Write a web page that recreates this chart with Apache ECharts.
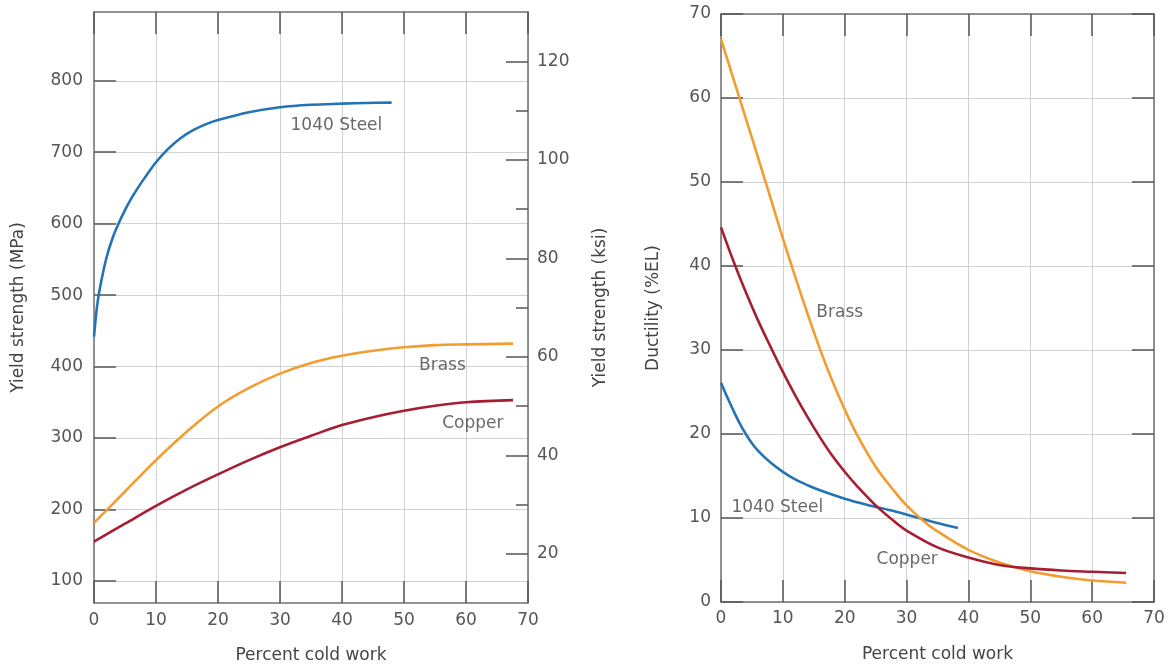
<!DOCTYPE html>
<html><head><meta charset="utf-8">
<script src="https://cdn.jsdelivr.net/npm/echarts@6/dist/echarts.min.js"></script>
<style>html,body{margin:0;padding:0;background:#fff}#c{width:1169px;height:666px}</style>
</head><body><div id="c"></div>
<script>
// ---------- DATA ----------
const MPA_PER_KSI = 6.894757;
// Left panel: yield strength (MPa) vs percent cold work
const steelYS_x = [0,0.5,1,2,3,4,5,6,7,8,10,12,14,16,18,20,25,30,35,40,44,48];
const steelYS_y = [442,485,512,552,580,601,619,635,649,662,686,705,720,731,739,745,756,763,766.5,768,769,769.5];
const brassYS_x = [0,5,10,15,20,25,30,35,40,45,50,55,60,67.6];
const brassYS_y = [181,225,269,309,344,370,390,405,415,422,427,430,431,432];
const copperYS_x = [0,5,10,15,20,25,30,35,40,45,50,55,60,67.6];
const copperYS_y = [155,180,205,228,249,269,287,303,318,329,338,345,350,353];
// Right panel: ductility (%EL) vs percent cold work
const steelEL_x = [0,1,2,3,4,5,6,8,10,12,14,16,20,24,28,32,35,38.3];
const steelEL_y = [26.1,24.4,22.8,21.3,20.0,18.9,18.0,16.6,15.5,14.6,13.9,13.3,12.3,11.5,10.8,10.0,9.4,8.8];
const brassEL_x = [0,2,4,6,8,10,12,14,16,18,20,22,25,28,30,32.5,35,40,45,50,55,60,65.5];
const brassEL_y = [67,62.3,57.6,52.9,48.1,43.3,38.7,34.3,30.1,26.3,22.9,19.9,16.1,13.2,11.5,9.8,8.4,6.2,4.7,3.65,3.0,2.55,2.3];
const copperEL_x = [0,2,4,6,8,10,12,14,16,18,20,22,25,28,30,35,40,45,50,55,60,65.5];
const copperEL_y = [44.6,40.6,36.9,33.5,30.4,27.4,24.6,22.0,19.6,17.4,15.5,13.8,11.5,9.6,8.5,6.5,5.3,4.4,4.0,3.75,3.6,3.45];
// Tick values
const mpaTicks = [100,200,300,400,500,600,700,800];
const ksiMajorTicks = [20,40,60,80,100,120];
const ksiMinorTicks = [30,50,70,90,110];
const ksiRange = [10,130];
// Curve labels [x, y, text]
const leftLabels = [[39.1,737,'1040 Steel'],[56.2,402,'Brass'],[61.1,320,'Copper']];
const rightLabels = [[19.2,34.4,'Brass'],[9.1,11.3,'1040 Steel'],[30.1,5.0,'Copper']];

// ---------- STYLE ----------
const FONT = 'DejaVu Sans';
const TXT = '#555';
const C_STEEL = '#2474b5', C_BRASS = '#f39c2f', C_COPPER = '#a71d31';
const frame = {show:true, onZero:false, lineStyle:{color:'#707070', width:1.5}};
const tickIn = (len) => ({show:true, inside:true, length:len, lineStyle:{color:'#555', width:1.5}});
const lbl = (m) => ({show:true, fontFamily:FONT, fontSize:17, color:TXT, margin:m});
const grid = {show:true, lineStyle:{color:'#d2d2d2', width:1}};
const nameStyle = {fontFamily:FONT, fontSize:17, color:'#444'};
const zip = (xs, ys) => xs.map((x,i)=>[x, ys[i]]);
const LEFT_RECT = {left:94, top:12, width:434, height:591};

const chart = echarts.init(document.getElementById('c'), null, {renderer:'canvas'});

function lineSeries(name, xs, ys, color, xi, yi){
  return {type:'line', name, xAxisIndex:xi, yAxisIndex:yi, data:zip(xs,ys), smooth:0.35,
    showSymbol:false, symbol:'none', lineStyle:{color, width:2.6}, itemStyle:{color}, z:5, silent:true};
}
function labelSeries(arr, xi, yi){
  return {type:'scatter', xAxisIndex:xi, yAxisIndex:yi, symbolSize:0, silent:true, z:6,
    data: arr.map(a=>({value:[a[0],a[1]], name:a[2]})),
    label:{show:true, position:'inside', formatter:p=>p.name, fontFamily:FONT, fontSize:17, color:'#444'}};
}

const option = {
  animation:false,
  backgroundColor:'#fff',
  grid:[
    Object.assign({containLabel:false, outerBoundsMode:'none'}, LEFT_RECT),
    {left:721, top:14, width:433, height:588, containLabel:false, outerBoundsMode:'none'},
    Object.assign({containLabel:false, outerBoundsMode:'none'}, LEFT_RECT)   // overlay grid for ksi minor ticks
  ],
  xAxis:[
    {gridIndex:0, type:'value', min:0, max:70, interval:10, position:'bottom',
     axisLine:frame, axisTick:tickIn(22), axisLabel:lbl(9), splitLine:grid,
     name:'Percent cold work', nameLocation:'middle', nameGap:44, nameTextStyle:nameStyle},
    {gridIndex:0, type:'value', min:0, max:70, interval:10, position:'top',
     axisLine:frame, axisTick:tickIn(22), axisLabel:{show:false}, splitLine:{show:false}},
    {gridIndex:1, type:'value', min:0, max:70, interval:10, position:'bottom',
     axisLine:frame, axisTick:tickIn(22), axisLabel:lbl(8), splitLine:grid,
     name:'Percent cold work', nameLocation:'middle', nameGap:44, nameTextStyle:nameStyle},
    {gridIndex:1, type:'value', min:0, max:70, interval:10, position:'top',
     axisLine:frame, axisTick:tickIn(22), axisLabel:{show:false}, splitLine:{show:false}},
    {gridIndex:2, type:'value', min:0, max:70, show:false}
  ],
  yAxis:[
    // 0: MPa (left)
    {gridIndex:0, type:'value', position:'left', min:ksiRange[0]*MPA_PER_KSI, max:ksiRange[1]*MPA_PER_KSI,
     axisLine:frame,
     axisTick:Object.assign(tickIn(22), {customValues:mpaTicks}),
     axisLabel:Object.assign(lbl(11), {customValues:mpaTicks}),
     splitLine:grid,
     name:'Yield strength (MPa)', nameLocation:'middle', nameRotate:90, nameGap:67, nameTextStyle:nameStyle},
    // 1: ksi major (right)
    {gridIndex:0, type:'value', position:'right', min:ksiRange[0], max:ksiRange[1],
     axisLine:frame,
     axisTick:Object.assign(tickIn(22), {customValues:ksiMajorTicks}),
     axisLabel:Object.assign(lbl(9), {customValues:ksiMajorTicks}),
     splitLine:{show:false},
     name:'Yield strength (ksi)', nameLocation:'middle', nameRotate:90, nameGap:64, nameTextStyle:nameStyle},
    // 2: ductility (left)
    {gridIndex:1, type:'value', position:'left', min:0, max:70, interval:10,
     axisLine:frame, axisTick:tickIn(22), axisLabel:lbl(10), splitLine:grid,
     name:'Ductility (%EL)', nameLocation:'middle', nameRotate:90, nameGap:59, nameTextStyle:nameStyle},
    // 3: ductility right ticks
    {gridIndex:1, type:'value', position:'right', min:0, max:70, interval:10,
     axisLine:frame, axisTick:tickIn(22), axisLabel:{show:false}, splitLine:{show:false}},
    // 4: ksi minor ticks (right, overlay grid)
    {gridIndex:2, type:'value', position:'right', min:ksiRange[0], max:ksiRange[1],
     axisLine:{show:false, onZero:false},
     axisTick:Object.assign(tickIn(12), {customValues:ksiMinorTicks}),
     axisLabel:{show:false}, splitLine:{show:false}}
  ],
  series:[
    lineSeries('1040 Steel', steelYS_x, steelYS_y, C_STEEL, 0, 0),
    lineSeries('Brass', brassYS_x, brassYS_y, C_BRASS, 0, 0),
    lineSeries('Copper', copperYS_x, copperYS_y, C_COPPER, 0, 0),
    lineSeries('1040 Steel', steelEL_x, steelEL_y, C_STEEL, 2, 2),
    lineSeries('Brass', brassEL_x, brassEL_y, C_BRASS, 2, 2),
    lineSeries('Copper', copperEL_x, copperEL_y, C_COPPER, 2, 2),
    labelSeries(leftLabels, 0, 0),
    labelSeries(rightLabels, 2, 2)
  ]
};
chart.setOption(option);
</script>
</body></html>
